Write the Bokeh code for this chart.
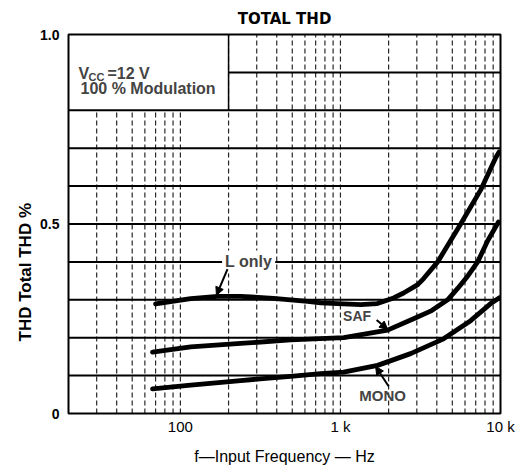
from bokeh.plotting import figure
from bokeh.models import Label, Arrow, NormalHead, FixedTicker, Title
from bokeh.embed import file_html
from bokeh.resources import INLINE

# ---------------- data ----------------
title_text = "TOTAL THD"
x_label = "f—Input Frequency — Hz"
y_label = "THD  Total THD  %"

x_ticks = [100, 1000, 10000]
x_tick_labels = ["100", "1 k", "10 k"]
y_ticks = [0, 0.5, 1]
y_tick_labels = ["0", "0.5", "1.0"]

l_only_freq = [70, 116, 171, 238, 382, 623, 752, 1340, 1700, 2150, 2480, 3040, 3310, 4050, 5640, 7520, 9330, 9800]
l_only_thd = [0.289, 0.303, 0.309, 0.309, 0.304, 0.296, 0.292, 0.287, 0.29, 0.305, 0.318, 0.34, 0.356, 0.40, 0.50, 0.59, 0.675, 0.69]

saf_freq = [67, 116, 238, 488, 1050, 1970, 2865, 3660, 4675, 5400, 6250, 7200, 8300, 9700]
saf_thd = [0.162, 0.176, 0.185, 0.194, 0.20, 0.22, 0.25, 0.27, 0.30, 0.33, 0.363, 0.40, 0.455, 0.505]

mono_freq = [67, 116, 238, 488, 752, 1047, 1706, 2745, 4410, 6510, 8680, 9800]
mono_thd = [0.065, 0.075, 0.087, 0.098, 0.105, 0.109, 0.127, 0.158, 0.197, 0.245, 0.29, 0.305]

# chart grid (log-paper style)
grid_decades = [10, 100, 1000]
grid_steps = [2, 3, 4, 5, 6, 7, 8, 9, 10]
grid_levels = [0.1, 0.2, 0.3, 0.4, 0.5, 0.6, 0.7, 0.8, 0.9]

f_min, f_max = 20, 10000
box_f, box_y = 200, 0.8   # note box occupies upper-left corner

# ---------------- figure ----------------
FONT = "Liberation Sans"
p = figure(width=515, height=468, x_axis_type="log",
           x_range=(f_min, f_max), y_range=(0, 1),
           output_backend="svg", toolbar_location=None,
           min_border_left=68, min_border_right=15,
           min_border_top=34, min_border_bottom=55)
p.xgrid.visible = False
p.ygrid.visible = False
p.background_fill_color = "white"
p.border_fill_color = "white"
p.outline_line_color = "black"
p.outline_line_width = 2

# title
p.title.text = title_text
p.title.align = "center"
p.title.offset = 6
p.title.standoff = 14
p.title.text_font = "DejaVu Sans"
p.title.text_font_size = "15px"
p.title.text_font_style = "bold"
p.title.text_color = "black"

# vertical grid lines
vf = [s * d for d in grid_decades for s in grid_steps if f_min < s * d < f_max]
v_top = [box_y if f < box_f else 1.0 for f in vf]
p.segment(x0=vf, x1=vf, y0=[0] * len(vf), y1=v_top,
          line_color="black", line_width=1.2, line_dash="5 3", line_alpha=0.85)
# note box right edge
p.segment(x0=[box_f], x1=[box_f], y0=[box_y], y1=[1.0], line_color="black", line_width=1.5)

# horizontal grid lines
hx0 = [box_f if y > box_y + 1e-9 else f_min for y in grid_levels]
p.segment(x0=hx0, x1=[f_max] * len(grid_levels), y0=grid_levels, y1=grid_levels,
          line_color="black", line_width=2)

# curves
for fx, fy in [(l_only_freq, l_only_thd), (saf_freq, saf_thd), (mono_freq, mono_thd)]:
    p.line(fx, fy, line_color="black", line_width=4.8, line_join="round", line_cap="round")

# axes
p.xaxis.ticker = FixedTicker(ticks=x_ticks)
p.xaxis.major_label_overrides = dict(zip(x_ticks, x_tick_labels))
p.yaxis.ticker = FixedTicker(ticks=y_ticks)
p.yaxis.major_label_overrides = dict(zip(y_ticks, y_tick_labels))
for ax in (p.xaxis, p.yaxis):
    ax.axis_line_color = None
    ax.major_tick_line_color = None
    ax.minor_tick_line_color = None
    ax.major_tick_out = 0
    ax.major_label_text_font = FONT
    ax.major_label_text_color = "black"
p.xaxis.major_label_standoff = 4
p.xaxis.major_label_text_font_size = "15px"
p.xaxis.axis_label = x_label
p.xaxis.axis_label_standoff = 10
p.xaxis.axis_label_text_font = FONT
p.xaxis.axis_label_text_font_size = "16px"
p.xaxis.axis_label_text_font_style = "normal"
p.xaxis.axis_label_text_color = "black"
p.yaxis.major_label_standoff = 9
p.yaxis.major_label_text_font_size = "14px"
p.yaxis.major_label_text_font_style = "bold"

# y-axis title, placed toward the bottom like the original
p.add_layout(Title(text=y_label, align="left", offset=72, standoff=6,
                   text_font=FONT, text_font_size="17px", text_font_style="bold",
                   text_color="black"), "left")

# note box text
note_kw = dict(x_units="screen", y_units="screen", text_font=FONT, text_font_style="bold",
               text_baseline="alphabetic", text_align="left")
p.add_layout(Label(x=10, y=340, text="V", text_font_size="16px", **note_kw))
p.add_layout(Label(x=20, y=337, text="CC", text_font_size="11px", **note_kw))
p.add_layout(Label(x=39, y=340, text="=12 V", text_font_size="16px", **note_kw))
p.add_layout(Label(x=12, y=325, text="100 % Modulation", text_font_size="16px", **note_kw))

# curve labels with leader arrows
p.add_layout(Label(x=267, y=0.4, text="L only", text_align="center", text_baseline="middle",
                   text_font=FONT, text_font_size="16px", text_font_style="bold",
                   background_fill_color="white", padding=3))
p.add_layout(Label(x=1271, y=0.257, text="SAF", text_align="center", text_baseline="middle",
                   text_font=FONT, text_font_size="14px", text_font_style="bold"))
p.add_layout(Label(x=1834, y=0.048, text="MONO", text_align="center", text_baseline="middle",
                   text_font=FONT, text_font_size="15px", text_font_style="bold"))

def head():
    return NormalHead(size=8, fill_color="black", line_color="black", line_width=1)

p.add_layout(Arrow(end=head(), x_start=197, y_start=0.381, x_end=168, y_end=0.312,
                   line_color="black", line_width=2))
p.add_layout(Arrow(end=head(), x_start=1683, y_start=0.247, x_end=1972, y_end=0.222,
                   line_color="black", line_width=2))
p.add_layout(Arrow(end=head(), x_start=2000, y_start=0.072, x_end=1659, y_end=0.124,
                   line_color="black", line_width=2))

open("out.html", "w").write(file_html(p, INLINE))
